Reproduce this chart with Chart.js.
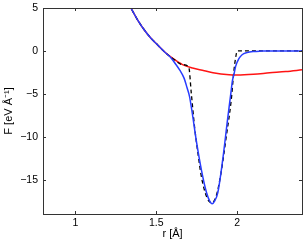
<!DOCTYPE html>
<html>
<head>
<meta charset="utf-8">
<script src="https://cdn.jsdelivr.net/npm/chart.js@4/dist/chart.umd.min.js"></script>
<style>
  html, body { margin: 0; padding: 0; background: #fff; }
  #chart { display: block; }
</style>
</head>
<body>
<canvas id="chart" width="305" height="242"></canvas>
<script>
// blue curve (smooth fit)
const blueR = [1.33, 1.344, 1.385, 1.426, 1.467, 1.508, 1.55, 1.59, 1.62, 1.645, 1.672, 1.69, 1.705, 1.72, 1.75, 1.78, 1.81, 1.83, 1.845, 1.86, 1.88, 1.91, 1.94, 1.96, 1.97, 1.98, 1.99, 2.01, 2.03, 2.06, 2.10, 2.15, 2.20, 2.40];
const blueF = [5.5, 4.97, 3.6, 2.44, 1.48, 0.7, -0.1, -0.8, -1.55, -2.25, -3.2, -4.3, -5.3, -7.0, -10.8, -14.0, -16.5, -17.5, -17.8, -17.5, -16.5, -12.7, -8.0, -5.0, -3.5, -2.7, -1.8, -0.9, -0.45, -0.2, -0.07, -0.02, 0, 0];

// red curve
const redR = [1.33, 1.344, 1.385, 1.426, 1.467, 1.508, 1.55, 1.60, 1.662, 1.724, 1.796, 1.85, 1.95, 2.00, 2.10, 2.20, 2.30, 2.40];
const redF = [5.5, 4.97, 3.6, 2.44, 1.48, 0.7, -0.1, -0.85, -1.6, -2.0, -2.3, -2.55, -2.78, -2.8, -2.72, -2.55, -2.4, -2.2];

// black dashed curve
const dashR = [1.33, 1.344, 1.385, 1.426, 1.467, 1.508, 1.55, 1.60, 1.662, 1.70, 1.716, 1.736, 1.757, 1.778, 1.809, 1.84, 1.87, 1.90, 1.932, 1.963, 1.98, 1.99, 2.00, 2.40];
const dashF = [5.5, 4.97, 3.6, 2.44, 1.48, 0.7, -0.1, -0.85, -1.6, -1.85, -4.9, -8.8, -11.9, -14.6, -16.9, -17.7, -16.9, -14.2, -10.0, -5.7, -2.2, -0.8, 0, 0];

const xTicks = [1, 1.5, 2];
const yTicks = [-15, -10, -5, 0, 5];

function pts(xs, ys) {
  return xs.map((x, i) => ({ x: x, y: ys[i] }));
}

const tickFont = { family: 'Liberation Sans, Arial, sans-serif', size: 10.5 };
const titleFont = { family: 'Liberation Sans, Arial, sans-serif', size: 11 };

// MATLAB-like box with inward ticks
const boxTicks = {
  id: 'boxTicks',
  afterDraw(chart) {
    const ctx = chart.ctx;
    const a = chart.chartArea;
    const xs = chart.scales.x, ys = chart.scales.y;
    ctx.save();
    ctx.strokeStyle = '#333';
    ctx.lineWidth = 1;
    ctx.beginPath();
    xTicks.forEach(v => {
      const px = Math.round(xs.getPixelForValue(v)) + 0.5;
      ctx.moveTo(px, a.bottom); ctx.lineTo(px, a.bottom - 3);
      ctx.moveTo(px, a.top); ctx.lineTo(px, a.top + 3);
    });
    yTicks.forEach(v => {
      const py = Math.round(ys.getPixelForValue(v)) + 0.5;
      ctx.moveTo(a.left, py); ctx.lineTo(a.left + 3, py);
      ctx.moveTo(a.right, py); ctx.lineTo(a.right - 3, py);
    });
    ctx.stroke();
    ctx.strokeRect(Math.round(a.left) + 0.5, Math.round(a.top) + 0.5, Math.round(a.right - a.left), Math.round(a.bottom - a.top));
    ctx.restore();
  }
};

new Chart(document.getElementById('chart'), {
  type: 'line',
  data: {
    datasets: [
      { data: pts(blueR, blueF), borderColor: 'rgb(40,60,255)', borderWidth: 1.5 },
      { data: pts(dashR, dashF), borderColor: '#000', borderWidth: 1.3, borderDash: [4, 3] },
      { data: pts(redR, redF), borderColor: 'rgb(255,20,20)', borderWidth: 1.5 }
    ]
  },
  options: {
    responsive: false,
    animation: false,
    elements: {
      point: { radius: 0 },
      line: { cubicInterpolationMode: 'monotone', fill: false }
    },
    layout: { padding: { top: 8, right: 3, left: 0, bottom: 0 } },
    plugins: { legend: { display: false }, tooltip: { enabled: false } },
    scales: {
      x: {
        type: 'linear',
        min: 0.8, max: 2.4,
        afterBuildTicks: s => { s.ticks = xTicks.map(v => ({ value: v })); },
        afterFit: s => { s.height = 28; s.paddingLeft = 0; s.paddingRight = 0; },
        grid: { display: false, drawTicks: false, tickLength: 0 },
        border: { display: false },
        ticks: { color: '#000', font: tickFont, padding: 3, maxRotation: 0, callback: v => String(v) },
        title: { display: true, text: 'r [Å]', color: '#000', font: titleFont, padding: { top: 0, bottom: 1 } }
      },
      y: {
        type: 'linear',
        min: -19, max: 5,
        afterBuildTicks: s => { s.ticks = yTicks.map(v => ({ value: v })); },
        afterFit: s => { s.width = 43; s.paddingTop = 0; s.paddingBottom = 0; },
        grid: { display: false, drawTicks: false, tickLength: 0 },
        border: { display: false },
        ticks: { color: '#000', font: tickFont, padding: 5, callback: v => String(v).replace('-', '\u2212') },
        title: { display: true, text: 'F [eV Å\u207B\u00B9]', color: '#000', font: titleFont, padding: { top: 2, bottom: 0 } }
      }
    }
  },
  plugins: [boxTicks]
});
</script>
</body>
</html>
